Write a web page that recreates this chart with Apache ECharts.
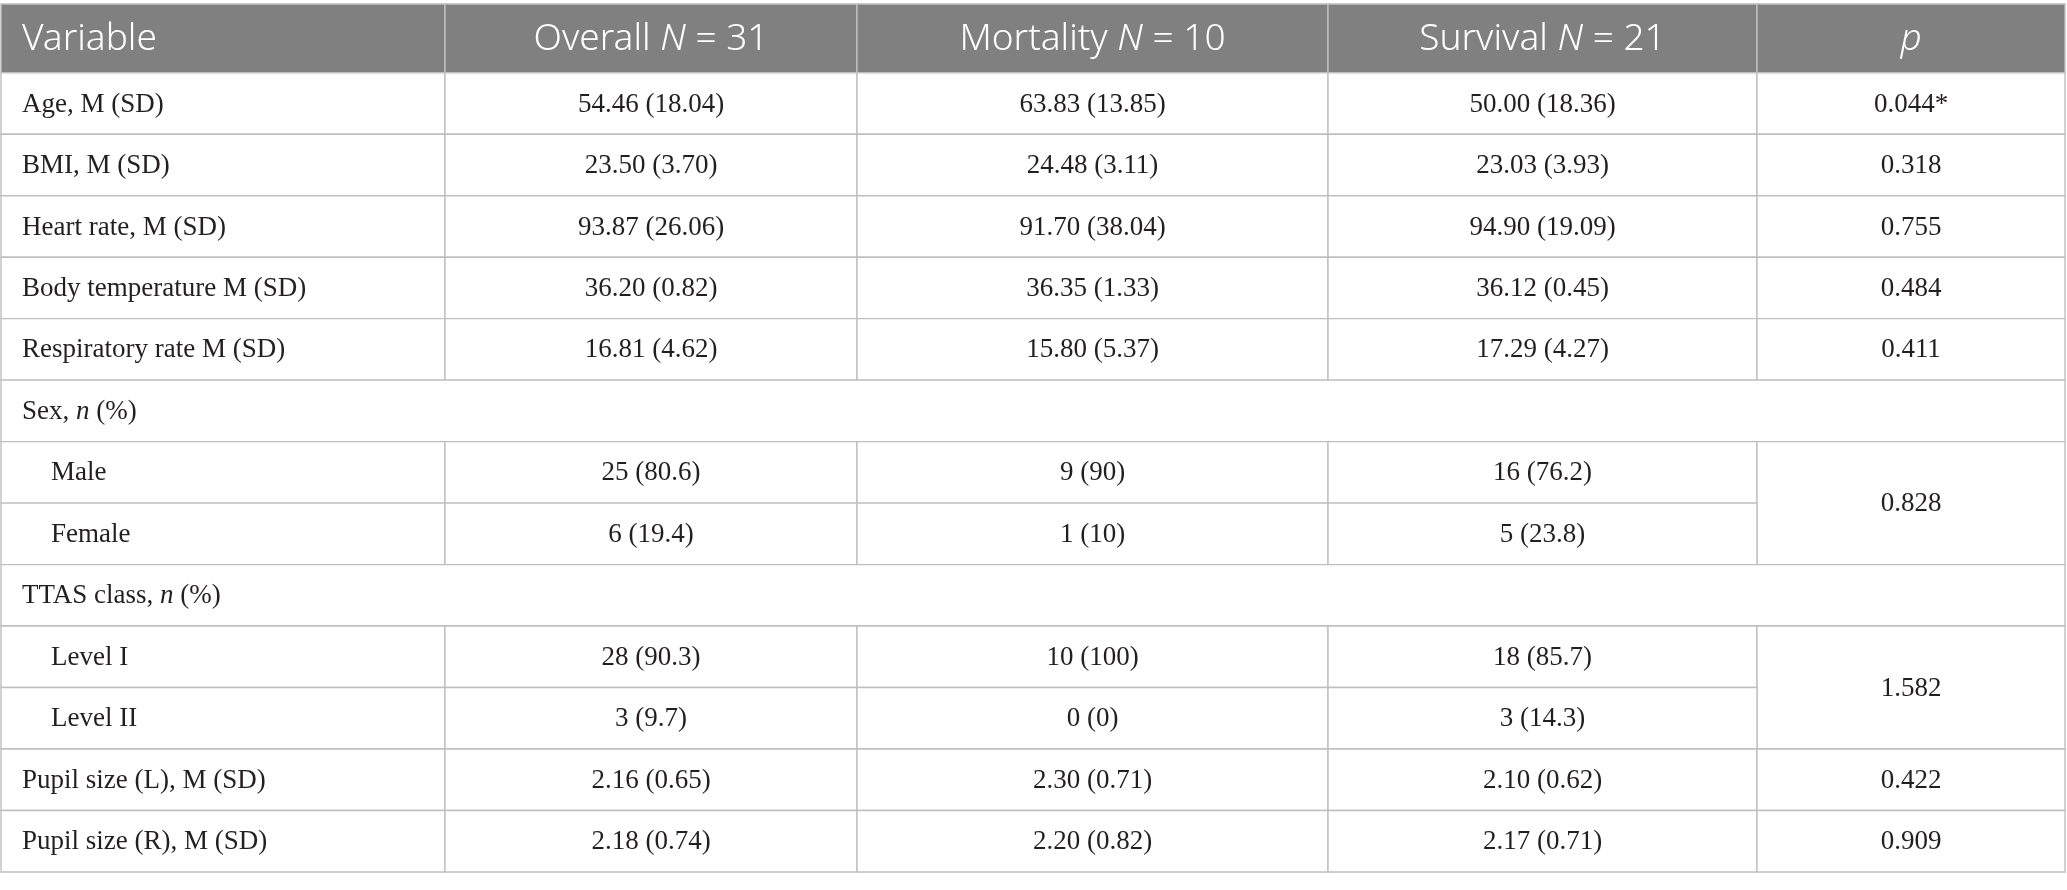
<!DOCTYPE html>
<html>
<head>
<meta charset="utf-8">
<script src="https://cdn.jsdelivr.net/npm/echarts@6.0.0/dist/echarts.min.js"></script>
<style>
  html, body { margin: 0; padding: 0; background: #fff; }
  #main { width: 2067px; height: 890px; }
</style>
</head>
<body>
<div id="main"></div>
<script>
// table content
var headers = ['Variable', 'Overall {i|N} = 31', 'Mortality {i|N} = 10', 'Survival {i|N} = 21', '{i|p}'];
var variables = ['Age, M (SD)', 'BMI, M (SD)', 'Heart rate, M (SD)', 'Body temperature M (SD)', 'Respiratory rate M (SD)',
  'Sex, {i|n} (%)', 'Male', 'Female', 'TTAS class, {i|n} (%)', 'Level I', 'Level II',
  'Pupil size (L), M (SD)', 'Pupil size (R), M (SD)'];
// 'section' rows span the whole table, 'sub' rows are indented
var rowKinds = ['item', 'item', 'item', 'item', 'item', 'section', 'sub', 'sub', 'section', 'sub', 'sub', 'item', 'item'];
var overall = ['54.46 (18.04)', '23.50 (3.70)', '93.87 (26.06)', '36.20 (0.82)', '16.81 (4.62)', null,
  '25 (80.6)', '6 (19.4)', null, '28 (90.3)', '3 (9.7)', '2.16 (0.65)', '2.18 (0.74)'];
var mortality = ['63.83 (13.85)', '24.48 (3.11)', '91.70 (38.04)', '36.35 (1.33)', '15.80 (5.37)', null,
  '9 (90)', '1 (10)', null, '10 (100)', '0 (0)', '2.30 (0.71)', '2.20 (0.82)'];
var survival = ['50.00 (18.36)', '23.03 (3.93)', '94.90 (19.09)', '36.12 (0.45)', '17.29 (4.27)', null,
  '16 (76.2)', '5 (23.8)', null, '18 (85.7)', '3 (14.3)', '2.10 (0.62)', '2.17 (0.71)'];
var pValues = ['0.044*', '0.318', '0.755', '0.484', '0.411', null,
  '0.828', null, null, '1.582', null, '0.422', '0.909'];
// how many rows each p value covers (0 = covered by the cell above / no cell)
var pSpans = [1, 1, 1, 1, 1, 0, 2, 0, 0, 2, 0, 1, 1];

// layout (pixels on the x axis, row units on the y axis)
var colEdges = [1, 445, 857, 1328, 1757, 2065];
var headerRows = 1.118;
var headerFill = '#808080';
var lineColor = '#bfbfbf';
var bodyFont = '"Liberation Serif", "DejaVu Serif", serif';
var headFont = '"Noto Sans", "Open Sans", sans-serif';

var cells = [];
headers.forEach(function (h, c) {
  cells.push({ col: c, row: -headerRows, colSpan: 1, rowSpan: headerRows, text: h, kind: 'head' });
});
variables.forEach(function (v, r) {
  var kind = rowKinds[r];
  if (kind === 'section') {
    cells.push({ col: 0, row: r, colSpan: 5, rowSpan: 1, text: v, kind: 'label' });
    return;
  }
  cells.push({ col: 0, row: r, colSpan: 1, rowSpan: 1, text: v, kind: kind === 'sub' ? 'sublabel' : 'label' });
  [overall, mortality, survival].forEach(function (arr, i) {
    cells.push({ col: i + 1, row: r, colSpan: 1, rowSpan: 1, text: arr[r], kind: 'value' });
  });
  if (pSpans[r] > 0) {
    cells.push({ col: 4, row: r, colSpan: 1, rowSpan: pSpans[r], text: pValues[r], kind: 'value' });
  }
});

function renderCell(params, api) {
  var c = cells[params.dataIndex];
  var p0 = api.coord([colEdges[c.col], c.row]);
  var p1 = api.coord([colEdges[c.col + c.colSpan], c.row + c.rowSpan]);
  var x = p0[0], y = Math.min(p0[1], p1[1]);
  var w = p1[0] - p0[0], h = Math.abs(p1[1] - p0[1]);
  var isHead = c.kind === 'head';
  var font = isHead ? headFont : bodyFont;
  var size = isHead ? 37 : 27;
  var weight = isHead ? 300 : 'normal';
  var color = isHead ? '#ffffff' : '#231f20';
  var align = 'center', tx = x + w / 2;
  if (c.col === 0) {
    align = 'left';
    tx = x + (c.kind === 'sublabel' ? 50 : 21);
  }
  var children = [{
    type: 'rect',
    shape: { x: x, y: y, width: w, height: h },
    style: { fill: isHead ? headerFill : '#ffffff', stroke: lineColor, lineWidth: 1.4 }
  }];
  if (c.text) {
    children.push({
      type: 'text',
      style: {
        x: tx,
        y: y + h / 2 + 1,
        text: c.text,
        align: align,
        verticalAlign: 'middle',
        fill: color,
        fontFamily: font,
        fontSize: size,
        fontWeight: weight,
        rich: {
          i: { fontStyle: 'italic', fontFamily: font, fontSize: size, fontWeight: weight, fill: color }
        }
      }
    });
  }
  return { type: 'group', children: children };
}

var chart = echarts.init(document.getElementById('main'), null, { renderer: 'canvas' });
chart.setOption({
  animation: false,
  grid: { left: 0, right: 0, top: 4, bottom: 18 },
  xAxis: { type: 'value', min: 0, max: 2067, show: false },
  yAxis: { type: 'value', min: -headerRows, max: variables.length, inverse: true, show: false },
  series: [{
    type: 'custom',
    clip: false,
    renderItem: renderCell,
    data: cells.map(function (c) { return [colEdges[c.col], c.row]; })
  }]
});
</script>
</body>
</html>
